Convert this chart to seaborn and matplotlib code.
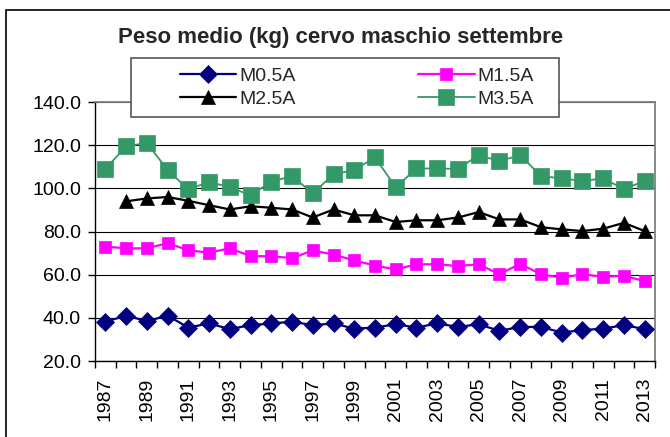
import numpy as np
import pandas as pd
import matplotlib
matplotlib.use("Agg")
import matplotlib.pyplot as plt
from matplotlib.patches import Rectangle
from matplotlib.ticker import FormatStrFormatter
import seaborn as sns

# Dati
anni = list(range(1987, 2014))
m05 = [38.2, 41.0, 38.5, 41.0, 35.5, 37.4, 34.8, 36.6, 37.4, 38.2, 36.6, 37.4, 35.0, 35.5,
       37.0, 35.5, 37.4, 35.8, 37.0, 34.0, 35.8, 35.8, 33.2, 34.3, 35.0, 36.6, 34.8]
m15 = [73.0, 72.2, 72.2, 74.6, 71.3, 70.2, 72.2, 68.6, 68.5, 67.7, 71.2, 69.3, 66.6, 64.2,
       62.4, 64.8, 64.8, 64.0, 64.8, 60.2, 65.0, 60.2, 58.6, 60.2, 59.0, 59.5, 57.0]
m25 = [np.nan, 94.0, 95.3, 96.0, 94.2, 92.2, 90.2, 91.7, 91.0, 90.2, 86.5, 90.2, 87.5, 87.5,
       84.4, 85.2, 85.2, 86.5, 89.0, 85.6, 85.6, 82.0, 81.0, 80.2, 81.3, 84.0, 80.2]
m35 = [109.0, 119.5, 121.0, 108.5, 99.5, 103.0, 100.5, 96.8, 103.0, 105.7, 97.7, 106.5, 108.5, 114.3,
       100.5, 109.2, 109.2, 109.0, 115.4, 112.6, 115.4, 105.7, 104.6, 103.4, 104.6, 99.7, 103.4]
serie = ["M0.5A", "M1.5A", "M2.5A", "M3.5A"]
titolo = "Peso medio (kg) cervo maschio settembre"

df = pd.DataFrame({"anno": anni, "M0.5A": m05, "M1.5A": m15, "M2.5A": m25, "M3.5A": m35})
df = df.melt(id_vars="anno", var_name="serie", value_name="peso")

stili = {
    "M0.5A": dict(color="#000080", marker="D", markersize=9.5, lw=1.6),
    "M1.5A": dict(color="#FF00FF", marker="s", markersize=8, lw=1.6),
    "M2.5A": dict(color="#000000", marker="^", markersize=9.5, lw=1.6),
    "M3.5A": dict(color="#339966", marker="s", markersize=12, lw=1.3),
}

sns.set_style("white")
plt.rcParams["font.family"] = ["Liberation Sans", "DejaVu Sans"]

W, H = 670, 437
fig = plt.figure(figsize=(W / 100, H / 100), dpi=100)
ax = fig.add_axes([95 / W, 1 - 361 / H, (655 - 95) / W, (361 - 102) / H])

for s in serie:
    sub = df[df["serie"] == s].dropna()
    st = stili[s]
    sns.lineplot(data=sub, x="anno", y="peso", ax=ax, label=s, color=st["color"],
                 marker=st["marker"], markersize=st["markersize"], linewidth=st["lw"],
                 markeredgecolor=st["color"], markeredgewidth=0.5, zorder=3)

ax.set_xlim(1986.5, 2013.5)
ax.set_ylim(20, 140)
ax.set_yticks(np.arange(20, 141, 20))
ax.yaxis.set_major_formatter(FormatStrFormatter("%.1f"))
ax.set_xticks(anni[::2])
ax.set_xticklabels([str(a) for a in anni[::2]], rotation=90)
ax.set_xticks(np.arange(1986.5, 2014, 1), minor=True)
ax.tick_params(axis="x", which="major", length=0, pad=12, labelsize=14, colors="black")
ax.tick_params(axis="x", which="minor", length=5, width=1, color="black", direction="out", bottom=True)
ax.tick_params(axis="y", length=5, width=1, pad=5, labelsize=14, direction="out", left=True, colors="black")
ax.set_xlabel("")
ax.set_ylabel("")
ax.grid(axis="y", color="black", lw=0.8, zorder=1)
ax.set_axisbelow(True)
for side in ["left", "bottom"]:
    ax.spines[side].set_color("black")
    ax.spines[side].set_linewidth(1)
for side in ["top", "right"]:
    ax.spines[side].set_color("#808080")
    ax.spines[side].set_linewidth(1.3)

handles, labels = ax.get_legend_handles_labels()
ax.get_legend().remove()
hd = dict(zip(labels, handles))
ordine = ["M0.5A", "M2.5A", "M1.5A", "M3.5A"]

# cornice esterna e riquadro legenda
fig.patches.append(Rectangle((6 / W, -0.2), 1.2, 0.2 + 1 - 10 / H, transform=fig.transFigure,
                             fill=False, edgecolor="black", lw=1.2, zorder=0))
fig.patches.append(Rectangle((131 / W, 1 - 117 / H), (559 - 131) / W, (117 - 58) / H,
                             transform=fig.transFigure, facecolor="white", edgecolor="#555555",
                             lw=1.2, zorder=4))
fig.legend([hd[k] for k in ordine], ordine, ncol=2, loc="center left",
           bbox_to_anchor=(180 / W, 1 - 87.5 / H), frameon=False, fontsize=14,
           handlelength=2.9, handletextpad=0.15, columnspacing=6.3, labelspacing=0.3,
           borderpad=0, borderaxespad=0).set_zorder(5)

fig.text(341 / W, 1 - 38 / H, titolo, ha="center", va="center", fontsize=16, fontweight="bold")

fig.savefig("out.png", dpi=100)
